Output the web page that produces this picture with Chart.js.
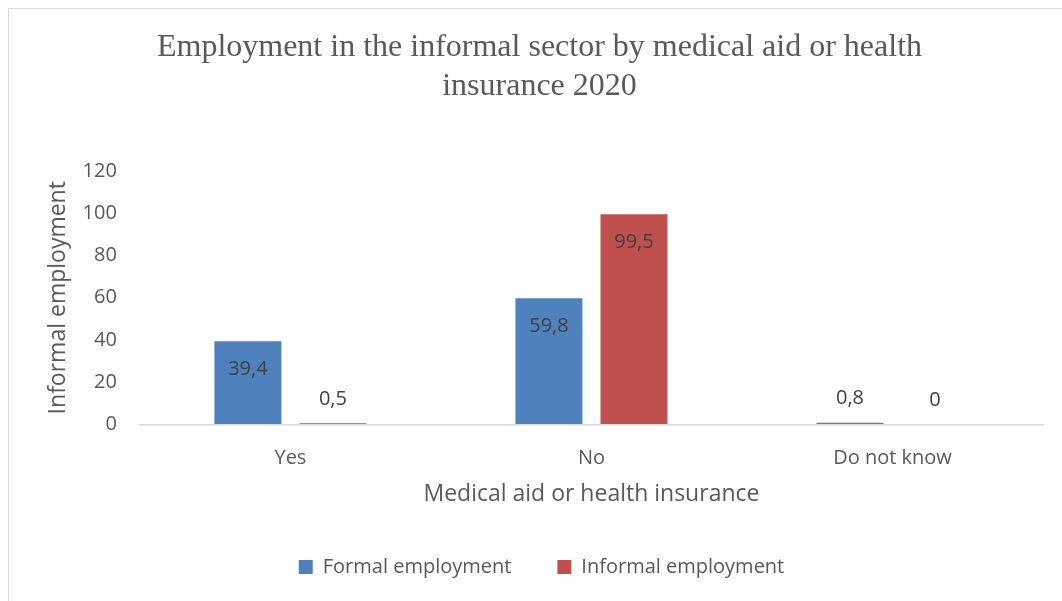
<!DOCTYPE html>
<html>
<head>
<meta charset="utf-8">
<script src="https://cdn.jsdelivr.net/npm/chart.js@4"></script>
<style>
  html, body { margin:0; padding:0; background:#fff; }
  #wrap { position:relative; width:1062px; height:601px; overflow:hidden; }
  #frame { position:absolute; left:8px; top:8px; width:1070px; height:610px; border:1px solid #d9d9d9; }
  canvas { position:absolute; left:0; top:0; }
</style>
</head>
<body>
<div id="wrap">
  <div id="frame"></div>
  <canvas id="chart" width="1062" height="601"></canvas>
</div>
<script>
// ── data ────────────────────────────────────────────────────────────────
const categories = ['Yes', 'No', 'Do not know'];
const formalEmployment = [39.4, 59.8, 0.8];
const informalEmployment = [0.5, 99.5, 0];
const yTicks = [0, 20, 40, 60, 80, 100, 120];

const BLUE = '#4F81BD';
const RED = '#C0504D';
const TEXT = '#595959';
const sans = "'Open Sans', 'Noto Sans', sans-serif";

// value labels: inside the bar top when there's room, otherwise just above
const barLabels = {
  id: 'barLabels',
  afterDatasetsDraw(chart) {
    const ctx = chart.ctx;
    ctx.save();
    ctx.font = `20px ${sans}`;
    ctx.fillStyle = '#404040';
    ctx.textAlign = 'center';
    ctx.textBaseline = 'middle';
    chart.data.datasets.forEach((ds, i) => {
      chart.getDatasetMeta(i).data.forEach((bar, j) => {
        const txt = String(ds.data[j]).replace('.', ',');
        const h = bar.base - bar.y;
        const y = h > 50 ? bar.y + 28 : bar.y - 24;
        ctx.fillText(txt, bar.x, y);
      });
    });
    ctx.restore();
  }
};

// title and legend sit a little right of the canvas centre
const blockShift = {
  id: 'blockShift',
  afterLayout(chart) {
    chart.legend.left += 9;
    chart.legend.right += 9;
    chart.titleBlock.left += 7;
    chart.titleBlock.right += 7;
  }
};

const barStyle = {borderWidth: 0, categoryPercentage: .565, barPercentage: .788};
// invisible tick marks used as spacing between axis and labels
const hiddenTicks = {display:true, drawOnChartArea:false, drawTicks:true, tickColor:'rgba(0,0,0,0)'};

new Chart(document.getElementById('chart'), {
  type: 'bar',
  data: {
    labels: categories,
    datasets: [
      {label:'Formal employment', data: formalEmployment, backgroundColor: BLUE, ...barStyle},
      {label:'Informal employment', data: informalEmployment, backgroundColor: RED, ...barStyle},
    ]
  },
  options: {
    responsive:false, animation:false,
    layout: {padding: {left: 22, right: 19, top: 28, bottom: 14}},
    plugins: {
      tooltip: {enabled:false},
      title: {
        display:true,
        text: ['Employment in the informal sector by medical aid or health', 'insurance 2020'],
        color: TEXT,
        font: {family: "'Liberation Serif', 'Times New Roman', serif", size: 32, weight: 'normal', lineHeight: 1.22},
        padding: {top: 0, bottom: 65}
      },
      legend: {
        position: 'bottom',
        labels: {color: TEXT, font: {family: sans, size: 20}, boxWidth: 14, boxHeight: 14, padding: 46}
      }
    },
    scales: {
      x: {
        grid: {...hiddenTicks, tickLength: 22},
        border: {color:'#d9d9d9', width: 1.5},
        ticks: {color: TEXT, font: {family: sans, size: 20}, padding: 0},
        title: {display:true, text:'Medical aid or health insurance', color: TEXT, font: {family: sans, size: 23}, padding: {top: 10, bottom: 3}}
      },
      y: {
        min: 0, max: 120,
        afterBuildTicks: axis => { axis.ticks = yTicks.map(v => ({value: v})); },
        grid: {...hiddenTicks, tickLength: 23},
        border: {display:false},
        ticks: {color: TEXT, font: {family: sans, size: 20}, padding: 0},
        title: {display:true, text:'Informal employment', color: TEXT, font: {family: sans, size: 23}, padding: {top: 23, bottom: 10}}
      }
    }
  },
  plugins: [barLabels, blockShift]
});
</script>
</body>
</html>
